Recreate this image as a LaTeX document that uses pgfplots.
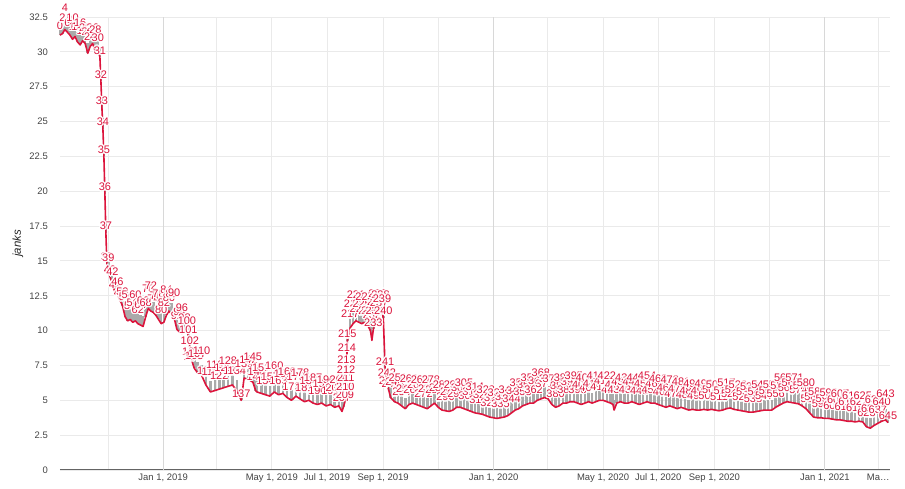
\documentclass[border=0pt]{standalone}
\usepackage{pgfplots}
\usepackage{pgfplotstable}
\pgfplotsset{compat=1.18}
\usepackage{fontspec}
\setmainfont{Liberation Sans}

\definecolor{lc}{RGB}{220,20,60}
\definecolor{bc}{RGB}{170,170,170}
\definecolor{gc}{RGB}{234,234,234}
\definecolor{gj}{RGB}{216,216,216}
\definecolor{tc}{RGB}{68,68,68}
\definecolor{axc}{RGB}{100,100,100}

% white halo round a label
\newcommand\hcopy[3]{\rlap{\kern#1\raise#2\hbox{\textcolor{white}{#3}}}}
\newcommand\halo[1]{\hcopy{-1.4bp}{0bp}{#1}\hcopy{1.4bp}{0bp}{#1}\hcopy{0bp}{1.4bp}{#1}\hcopy{0bp}{-1.4bp}{#1}%
  \hcopy{-1bp}{1bp}{#1}\hcopy{1bp}{1bp}{#1}\hcopy{-1bp}{-1bp}{#1}\hcopy{1bp}{-1bp}{#1}#1}

% d = days since Jan 1, 2019; y = janks; i = point index; s = label lift
\pgfplotstableread{
d y i s
-114.1 31.2 0 3
-111.4 31.3 2 9
-108.6 31.6 4 15
-105.7 31.4 6 3
-103.0 31.2 8 9
-100.1 30.9 10 15
-97.4 31.1 12 3
-94.6 30.7 14 9
-91.7 30.5 16 15
-89.0 30.8 18 3
-86.2 30.6 20 9
-83.3 29.9 22 15
-80.6 30.4 24 3
-77.8 30.6 26 9
-74.9 30.0 28 15
-72.2 30.3 30 3
-69.9 29.6 31 0
-68.8 27.9 32 0
-67.7 26.0 33 0
-66.6 24.5 34 0
-65.5 22.5 35 0
-64.4 19.8 36 0
-63.3 17.0 37 0
-62.2 14.8 38 0
-60.6 14.3 39 6
-58.9 13.9 40 0
-56.1 13.3 42 6
-53.4 12.8 44 0
-50.6 12.6 46 6
-47.8 12.2 48 0
-45.0 11.8 50 7
-42.1 11.0 52 13
-39.3 10.7 54 19
-36.5 10.8 56 7
-33.6 10.6 58 13
-30.7 10.7 60 19
-28.0 10.5 62 7
-25.1 10.4 64 13
-22.2 10.3 66 19
-19.3 11.0 68 7
-16.5 11.6 70 13
-13.6 11.4 72 19
-10.8 11.3 74 7
-8.1 11.1 76 13
-5.1 10.8 78 19
-2.2 10.5 80 7
0.8 10.6 82 13
3.5 11.1 84 19
6.3 11.4 86 7
9.3 11.2 88 13
12.2 10.9 90 19
15.1 10.1 92 7
17.9 9.9 94 13
20.7 9.8 96 19
23.6 9.9 98 7
26.2 10.2 100 0
27.8 9.6 101 0
29.5 8.8 102 0
31.1 8.0 103 0
32.8 7.6 104 0
34.4 7.3 105 6
37.6 7.0 107 12
42.4 6.8 110 18
47.2 6.1 113 7
52.2 5.6 116 13
57.1 5.7 119 19
61.9 5.8 122 7
66.7 5.9 125 13
71.5 6.0 128 19
76.5 6.1 131 7
81.4 5.7 134 13
86.2 5.0 137 0
89.4 6.6 139 7
94.3 6.5 142 13
99.1 6.3 145 19
102.2 5.7 147 7
103.5 5.6 148 13
108.3 5.5 151 19
113.0 5.4 154 7
117.9 5.3 157 13
122.7 5.6 160 19
127.4 5.4 163 7
132.3 5.5 166 13
136.9 5.2 169 19
141.8 5.0 172 7
146.6 5.3 175 13
151.3 5.1 178 19
156.0 4.9 181 7
160.9 5.0 184 13
165.6 4.8 187 19
170.4 4.7 190 7
175.1 4.8 193 13
180.0 4.6 196 19
184.8 4.7 199 7
189.5 4.5 202 13
194.1 4.6 205 19
197.5 4.2 207 7
199.1 4.5 208 13
200.8 4.9 209 0
201.2 5.45 210 0
201.7 6.1 211 0
202.1 6.7 212 0
202.5 7.4 213 0
203.0 8.3 214 0
203.4 9.25 215 0
206.6 10.2 217 7
209.8 10.5 219 13
213.0 10.7 221 19
216.2 10.6 223 7
219.3 10.5 225 13
222.5 10.6 227 19
225.7 10.4 229 7
229.0 10.0 231 13
230.6 9.3 232 19
232.2 10.1 233 0
233.7 10.5 234 6
235.4 10.7 235 12
236.9 10.9 236 18
238.5 11.1 237 6
240.1 11.2 238 12
241.7 11.4 239 6
243.2 10.9 240 0
245.2 7.3 241 0
247.2 6.5 242 0
248.5 5.9 243 0
251.3 5.2 245 7
255.6 4.9 248 13
259.3 4.8 251 19
263.4 4.6 254 7
267.4 4.4 257 13
271.5 4.7 260 19
275.6 4.8 263 7
279.6 4.7 266 13
283.7 4.6 269 19
287.6 4.5 272 7
291.7 4.4 275 13
295.8 4.6 278 19
299.8 4.8 281 7
303.9 4.5 284 13
308.0 4.3 287 19
311.9 4.25 290 7
316.0 4.2 293 13
320.1 4.3 296 19
324.1 4.5 299 7
328.2 4.5 302 13
332.3 4.4 305 19
336.3 4.3 308 7
340.3 4.2 311 13
344.3 4.1 314 19
348.4 4.05 317 7
352.5 4.0 320 13
356.5 3.9 323 19
360.6 3.8 326 7
364.7 3.75 329 13
368.6 3.7 332 19
372.7 3.75 335 7
376.8 3.8 338 13
380.8 3.9 341 19
384.9 4.1 344 7
389.0 4.3 347 13
392.9 4.4 350 19
397.0 4.6 353 7
401.1 4.7 356 13
405.1 4.8 359 19
409.2 4.8 362 7
413.3 5.0 365 13
417.2 5.1 368 19
421.3 5.2 371 7
425.3 5.1 374 13
429.4 4.7 377 19
433.5 4.5 380 7
437.5 4.6 383 13
441.6 4.8 386 19
445.6 4.8 389 7
449.6 4.9 392 13
453.7 4.9 395 19
457.8 4.8 398 7
461.8 4.7 401 13
465.9 4.8 404 19
470.0 4.9 407 7
473.9 4.8 410 13
478.0 4.9 413 19
482.1 5.0 416 7
486.1 5.0 419 13
490.2 4.9 422 19
494.3 4.8 425 7
496.9 4.7 427 13
498.2 4.3 428 19
501.1 4.8 430 7
505.3 4.9 433 13
509.5 4.8 436 19
513.6 4.8 439 7
517.8 4.9 442 13
522.0 4.8 445 19
526.0 4.7 448 7
530.3 4.8 451 13
534.6 4.9 454 19
538.7 4.8 457 7
542.9 4.8 460 13
547.0 4.7 463 19
551.2 4.6 466 7
555.5 4.5 469 13
559.7 4.6 472 19
563.9 4.5 475 7
568.0 4.4 478 13
572.2 4.5 481 19
576.4 4.4 484 7
580.6 4.3 487 13
584.8 4.35 490 19
589.0 4.3 493 7
593.1 4.3 496 13
597.3 4.35 499 19
601.5 4.3 502 7
605.6 4.35 505 13
609.8 4.3 508 19
614.0 4.25 511 7
618.1 4.3 514 13
622.3 4.4 517 19
626.5 4.45 520 7
630.7 4.35 523 13
634.9 4.3 526 19
639.0 4.25 529 7
643.2 4.2 532 13
647.4 4.15 535 19
651.6 4.15 538 7
655.8 4.2 541 13
659.9 4.25 544 19
664.1 4.3 547 7
668.3 4.3 550 13
672.5 4.3 553 19
676.7 4.5 556 7
680.8 4.65 559 13
685.0 4.8 562 19
689.2 4.9 565 7
693.4 4.85 568 13
697.6 4.8 571 19
701.8 4.75 574 7
705.9 4.6 577 13
710.1 4.4 580 19
714.3 4.1 583 7
718.5 3.8 586 13
722.7 3.75 589 19
726.8 3.75 592 7
731.0 3.7 595 13
735.2 3.7 598 19
739.4 3.65 601 7
743.6 3.6 604 13
747.8 3.6 607 19
751.9 3.55 610 7
756.1 3.5 613 13
760.3 3.5 616 19
764.5 3.45 619 7
768.7 3.5 622 13
772.9 3.45 625 19
777.0 3.1 628 7
781.2 3.0 631 13
785.4 3.2 634 19
789.6 3.35 637 7
793.8 3.5 640 13
798.0 3.6 643 19
800.8 3.4 645 0
}\dat

\begin{document}
\begin{tikzpicture}
\begin{axis}[
    name=ax,
    width=830bp, height=453bp, scale only axis,
    xmin=-114, xmax=803, ymin=0, ymax=32.5,
    clip=false,
    axis lines=left,
    x axis line style={draw=axc, line width=1bp, -},
    y axis line style={draw=none},
    major tick length=0pt,
    xtick={-61,0,59,120,181,243,304,365,425,486,547,609,670,731,790},
    xticklabels={{},{Jan 1, 2019},{},{May 1, 2019},{Jul 1, 2019},{Sep 1, 2019},{},{Jan 1, 2020},{},{May 1, 2020},{Jul 1, 2020},{Sep 1, 2020},{},{Jan 1, 2021},{Ma…}},
    ytick={0,2.5,...,32.5},
    grid=major,
    major grid style={draw=gc, line width=0.9bp},
    extra x ticks={0,365,731},
    extra x tick labels={},
    extra x tick style={grid=major, major grid style={draw=gj, line width=1bp}},
    /pgf/number format/fixed,
    /pgf/number format/assume math mode=true,
    tick label style={font=\fontsize{9.5}{10}\selectfont, text=tc},
    yticklabel style={inner sep=0pt, xshift=-12bp},
    xticklabel style={inner sep=0pt, yshift=-3.5bp},
    ylabel={janks},
    every axis y label/.style={at={(axis description cs:0,0.5)}, xshift=-42bp, rotate=90,
        anchor=center, font=\fontsize{11.5}{12}\selectfont\itshape, text=black!85},
]
% interval sticks
\addplot[draw=none, forget plot,
    error bars/.cd, y dir=plus, y fixed=0.75, error mark=none,
    error bar style={draw=bc, line width=2.6bp}]
    table[x=d, y=y] {\dat};
% line with index labels
\addplot[lc, line width=1.6bp, line join=round, mark=none,
    point meta=explicit symbolic,
    visualization depends on={\thisrow{s} \as \sh},
    nodes near coords={\halo{\pgfplotspointmeta}},
    every node near coord/.append style={anchor=south, inner sep=0.8bp, yshift=\sh,
        font=\fontsize{11}{11}\selectfont, text=lc}]
    table[x=d, y=y, meta=i] {\dat};
\end{axis}
\pgfresetboundingbox
\path (ax.south west) ++(-60bp,-19bp) rectangle ++(905bp,489bp);
\end{tikzpicture}
\end{document}
